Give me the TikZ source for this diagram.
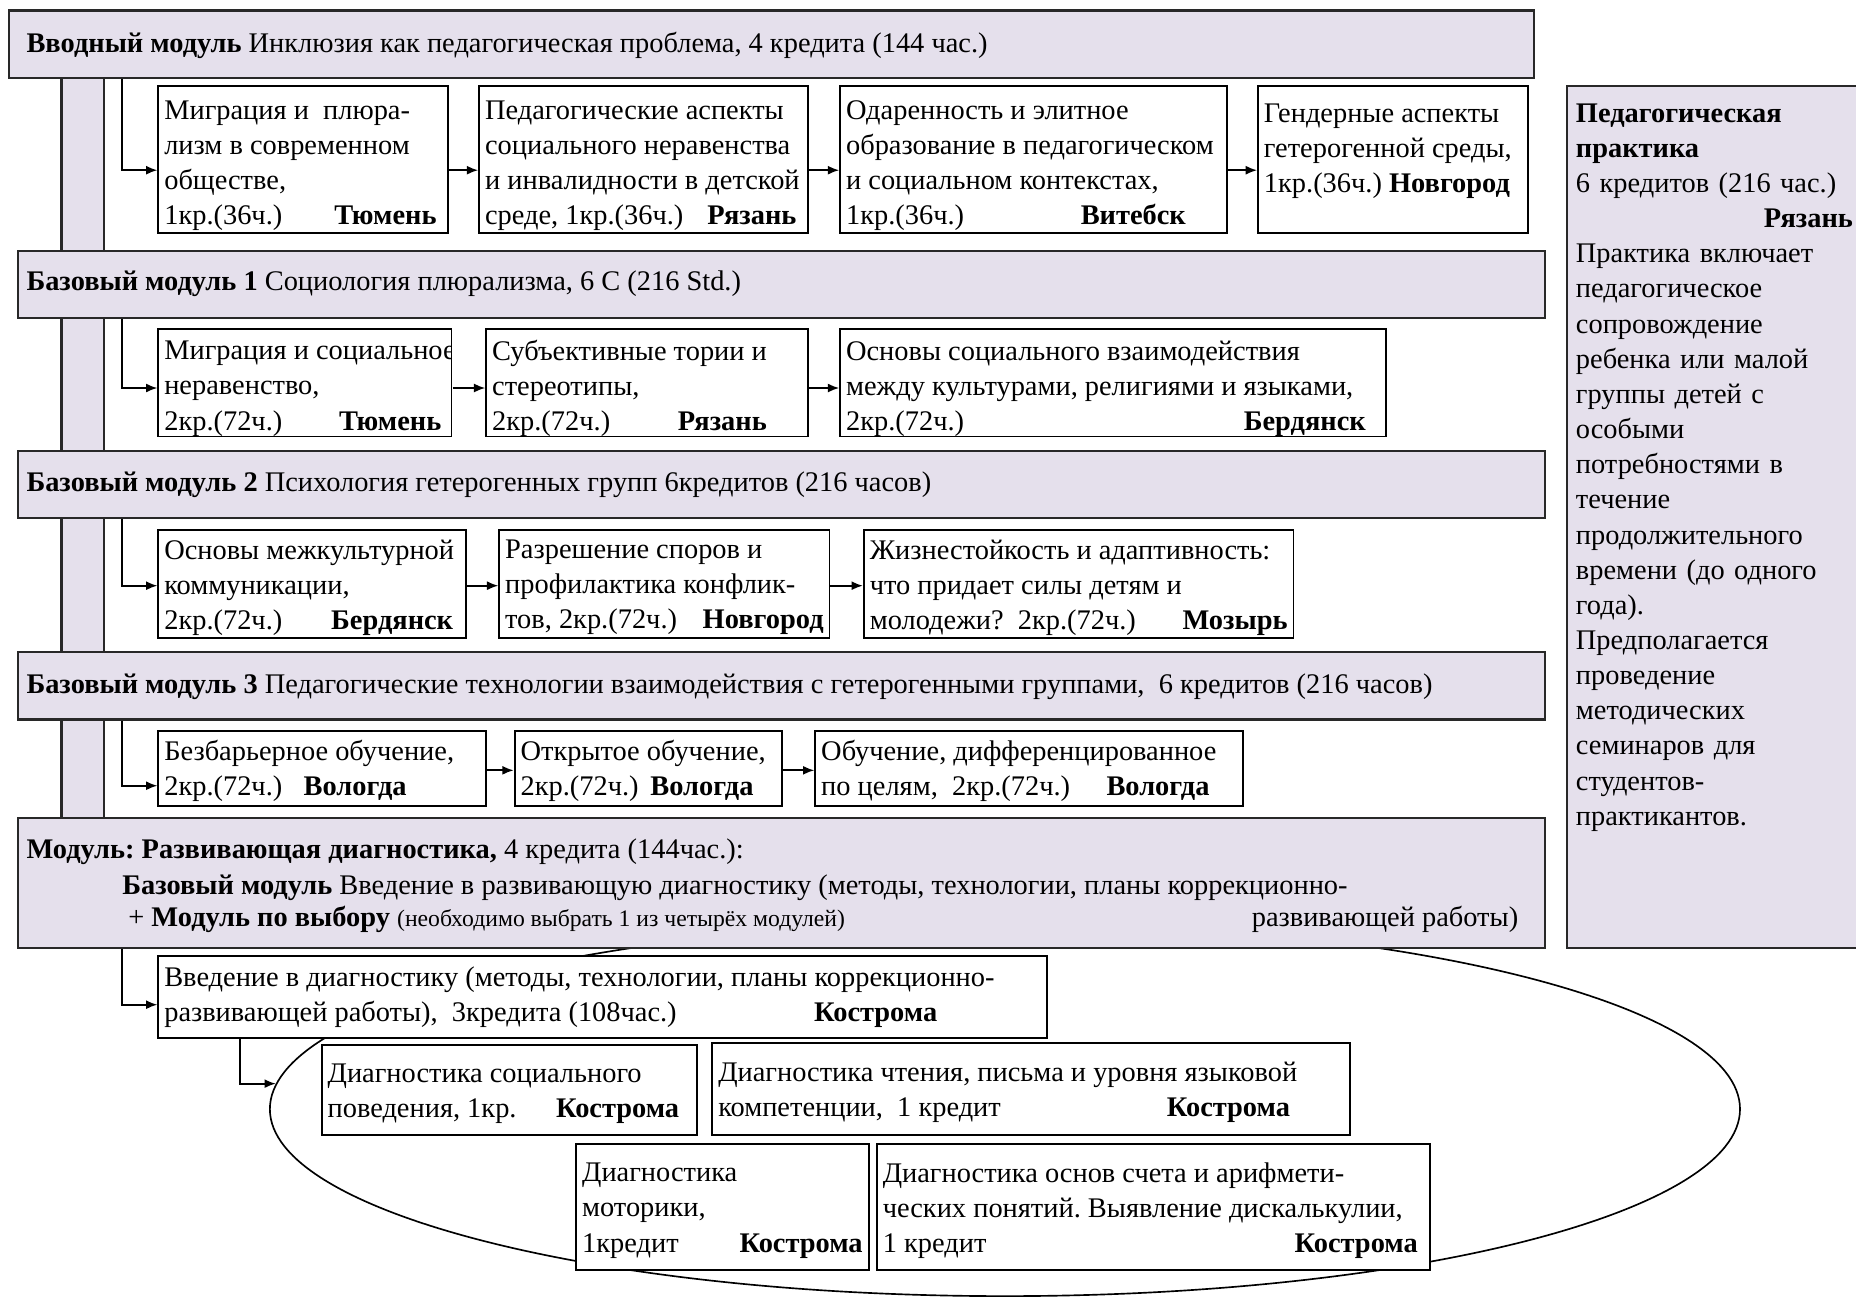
\documentclass[tikz,border=0pt]{standalone}
\usepackage{fontspec}
\setmainfont{Liberation Serif}
\frenchspacing
\usetikzlibrary{arrows.meta,shapes.geometric}
\definecolor{lav}{RGB}{229,224,236}
\definecolor{dk}{RGB}{40,40,40}
\newcommand\li[1]{\makebox[\linewidth][l]{#1}}
\newcommand\hf{\hspace{0pt plus 1filll}}
\def\tshift{-2pt}
\newcommand\bxat[7]{%
  \pgfmathsetmacro\bw{(#5-#3)*0.5}%
  \pgfmathsetmacro\bh{(#6-#4)*0.5}%
  \pgfmathsetmacro\tw{(#5-#3)*0.5-5}%
  \node[#1,anchor=north west,minimum width=\bw pt,minimum height=\bh pt] (#2) at (#3,#4)
    {\raisebox{\tshift}[\height][\depth]{\parbox{\tw pt}{\raggedright #7}}};}
\tikzset{
  basefont/.style={font=\fontsize{12}{14.85}\selectfont},
  whitebox/.style={draw=black, line width=0.8pt, fill=white, inner xsep=2.5pt, inner ysep=0pt, basefont},
  modbox/.style={draw=dk, line width=0.9pt, fill=lav, inner sep=0pt},
  lbl/.style={inner sep=0pt, anchor=mid west, basefont},
  arr/.style={line width=0.75pt, -{Latex[length=4.8pt,width=3.8pt]}},
}
\begin{document}
\begin{tikzpicture}[x=0.5pt,y=-0.5pt]
\fill[white] (0,0) rectangle (1568,1097);
\useasboundingbox (0,0) rectangle (1568,1097);
% vertical lavender bar
\path[draw=dk, line width=0.9pt, fill=lav] (52,60) rectangle (88,695);
% ellipse
\node[draw, line width=0.7pt, ellipse, minimum width=621pt, minimum height=158pt, inner sep=0pt] (ell) at (849,937) {};
% modules
\bxat{modbox}{m1}{7}{8}{1295}{65}{}
\bxat{modbox}{m2}{14}{211}{1304}{268}{}
\bxat{modbox}{m3}{14}{380}{1304}{437}{}
\bxat{modbox}{m4}{14}{550}{1304}{607}{}
\bxat{modbox}{m5}{14}{690}{1304}{800}{}
\bxat{modbox}{pr}{1323}{72}{1580}{800}{}
\node[lbl] (m1t) at (22,40) {\textbf{Вводный модуль} Инклюзия как педагогическая проблема, 4 кредита (144 час.)};
\node[lbl] (m2t) at (22,241) {\textbf{Базовый модуль 1} Социология плюрализма, 6 С (216 Std.)};
\node[lbl] (m3t) at (22,411) {\textbf{Базовый модуль 2} Психология гетерогенных групп 6кредитов (216 часов)};
\node[lbl] (m4t) at (22,581) {\textbf{Базовый модуль 3} Педагогические технологии взаимодействия с гетерогенными группами,\ \ 6 кредитов (216 часов)};
\node[lbl] (m5a) at (22,721) {\textbf{Модуль: Развивающая диагностика,} 4 кредита (144час.):};
\node[lbl] (m5b) at (103,751) {\textbf{Базовый модуль} Введение в развивающую диагностику (методы, технологии, планы коррекционно-};
\node[lbl] (m5c) at (108,778) {+ \textbf{Модуль по выбору} {\fontsize{10}{12}\selectfont (необходимо выбрать 1 из четырёх модулей)}};
\node[lbl, anchor=mid east] (m5d) at (1283,778) {развивающей работы)};
% practice text
\node[basefont, inner sep=0pt, anchor=north west, text width=117pt, align=left] (prt) at (1331,82) {\strut\textbf{Педагогическая}\\\textbf{практика}\\6 кредитов (216 час.)\\\li{\hf\textbf{Рязань}}\\Практика включает\\педагогическое\\сопровождение\\ребенка или малой\\группы детей с\\особыми\\потребностями в\\течение\\продолжительного\\времени (до одного\\года).\\Предполагается\\проведение\\методических\\семинаров для\\студентов-\\практикантов.};
% row 1
\def\tshift{-2.5pt}
\bxat{whitebox}{a1}{133}{72}{378}{196}{\li{Миграция и\ \ плюра-}\\\li{лизм в современном}\\\li{обществе,}\\\li{1кр.(36ч.)\hf\textbf{Тюмень}\hspace{2.5pt}}}
\bxat{whitebox}{a2}{404}{72}{682}{196}{\li{Педагогические аспекты}\\\li{социального неравенства}\\\li{и инвалидности в детской}\\\li{среде, 1кр.(36ч.)\hf\textbf{Рязань}\hspace{2.5pt}}}
\bxat{whitebox}{a3}{709}{72}{1036}{196}{\li{Одаренность и элитное}\\\li{образование в педагогическом}\\\li{и социальном контекстах,}\\\li{1кр.(36ч.)\hf\textbf{Витебск}\hspace{15pt}}}
\bxat{whitebox}{a4}{1062}{72}{1290}{196}{\li{Гендерные аспекты}\\\li{гетерогенной среды,}\\\li{1кр.(36ч.) \textbf{Новгород}}\\\li{}}
% row 2
\begin{scope}
\clip (131,275) rectangle (381.8,370);
\bxat{whitebox}{b1}{133}{277}{381}{368}{\li{Миграция и социальное}\\\li{неравенство,}\\\li{2кр.(72ч.)\hf\textbf{Тюмень}\hspace{2pt}}}
\end{scope}
\bxat{whitebox}{b2}{410}{277}{682}{368}{\li{Субъективные тории и}\\\li{стереотипы,}\\\li{2кр.(72ч.)\hf\textbf{Рязань}\hspace{15pt}}}
\bxat{whitebox}{b3}{709}{277}{1170}{368}{\li{Основы социального взаимодействия}\\\li{между культурами, религиями и языками,}\\\li{2кр.(72ч.)\hf\textbf{Бердянск}\hspace{6pt}}}
% row 3
\def\tshift{-1.5pt}
\bxat{whitebox}{c1}{133}{447}{393}{538}{\li{Основы межкультурной}\\\li{коммуникации,}\\\li{2кр.(72ч.)\hf\textbf{Бердянск}\hspace{3pt}}}
\bxat{whitebox}{c2}{421}{447}{700}{538}{\li{Разрешение споров и}\\\li{профилактика конфлик-}\\\li{тов, 2кр.(72ч.)\hf\textbf{Новгород}}}
\bxat{whitebox}{c3}{729}{447}{1092}{538}{\li{Жизнестойкость и адаптивность:}\\\li{что придает силы детям и}\\\li{молодежи?\ \ 2кр.(72ч.)\hf\textbf{Мозырь}}}
% row 4
\def\tshift{-1pt}
\bxat{whitebox}{d1}{133}{617}{410}{680}{\li{Безбарьерное обучение,}\\\li{2кр.(72ч.)\hspace{9pt}\textbf{Вологда}}}
\bxat{whitebox}{d2}{434}{617}{660}{680}{\li{Открытое обучение,}\\\li{2кр.(72ч.)\hspace{5pt}\textbf{Вологда}}}
\bxat{whitebox}{d3}{688}{617}{1049}{680}{\li{Обучение, дифференцированное}\\\li{по целям,\ \ 2кр.(72ч.)\hf\textbf{Вологда}\hspace{11.5pt}}}
% diagnostics
\def\tshift{0pt}
\bxat{whitebox}{e}{133}{807}{884}{876}{\li{Введение в диагностику (методы, технологии, планы коррекционно-}\\\li{развивающей работы),\ \ 3кредита (108час.)\hf\textbf{Кострома}\hspace{44pt}}}
\def\tshift{-1.5pt}
\bxat{whitebox}{f1}{271}{882}{588}{958}{\li{Диагностика социального}\\\li{поведения, 1кр.\hf\textbf{Кострома}\hspace{5pt}}}
\bxat{whitebox}{f2}{601}{880}{1140}{958}{\li{Диагностика чтения, письма и уровня языковой}\\\li{компетенции,\ \ 1 кредит\hf\textbf{Кострома}\hspace{23pt}}}
\bxat{whitebox}{g1}{486}{966}{733}{1072}{\li{Диагностика}\\\li{моторики,}\\\li{1кредит\hf\textbf{Кострома}}}
\bxat{whitebox}{g2}{740}{966}{1207}{1072}{\li{Диагностика основ счета и арифмети-}\\\li{ческих понятий. Выявление дискалькулии,}\\\li{1 кредит\hf\textbf{Кострома}\hspace{2.5pt}}}
% connectors
\coordinate (vx) at (103,0);
\coordinate (fx) at (203,0);
\draw[arr] (m1.south -| vx) |- ([yshift=-4.5pt]a1.west);
\draw[arr] ([yshift=-4.5pt]a1.east) -- ([yshift=-4.5pt]a2.west);
\draw[arr] ([yshift=-4.5pt]a2.east) -- ([yshift=-4.5pt]a3.west);
\draw[arr] ([yshift=-4.5pt]a3.east) -- ([yshift=-4.5pt]a4.west);
\draw[arr] (m2.south -| vx) |- ([yshift=-2.25pt]b1.west);
\draw[arr] ([yshift=-2.25pt]b1.east) -- ([yshift=-2.25pt]b2.west);
\draw[arr] ([yshift=-2.25pt]b2.east) -- ([yshift=-2.25pt]b3.west);
\draw[arr] (m3.south -| vx) |- ([yshift=-0.75pt]c1.west);
\draw[arr] ([yshift=-0.75pt]c1.east) -- ([yshift=-0.75pt]c2.west);
\draw[arr] ([yshift=-0.75pt]c2.east) -- ([yshift=-0.75pt]c3.west);
\draw[arr] (m4.south -| vx) |- ([yshift=-7.25pt]d1.west);
\draw[arr] ([yshift=-0.75pt]d1.east) -- ([yshift=-0.75pt]d2.west);
\draw[arr] ([yshift=-0.75pt]d2.east) -- ([yshift=-0.75pt]d3.west);
\draw[arr] (m5.south -| vx) |- ([yshift=-3.25pt]e.west);
\draw[arr] (e.south -| fx) |- (ell.178.2);
\end{tikzpicture}
\end{document}
